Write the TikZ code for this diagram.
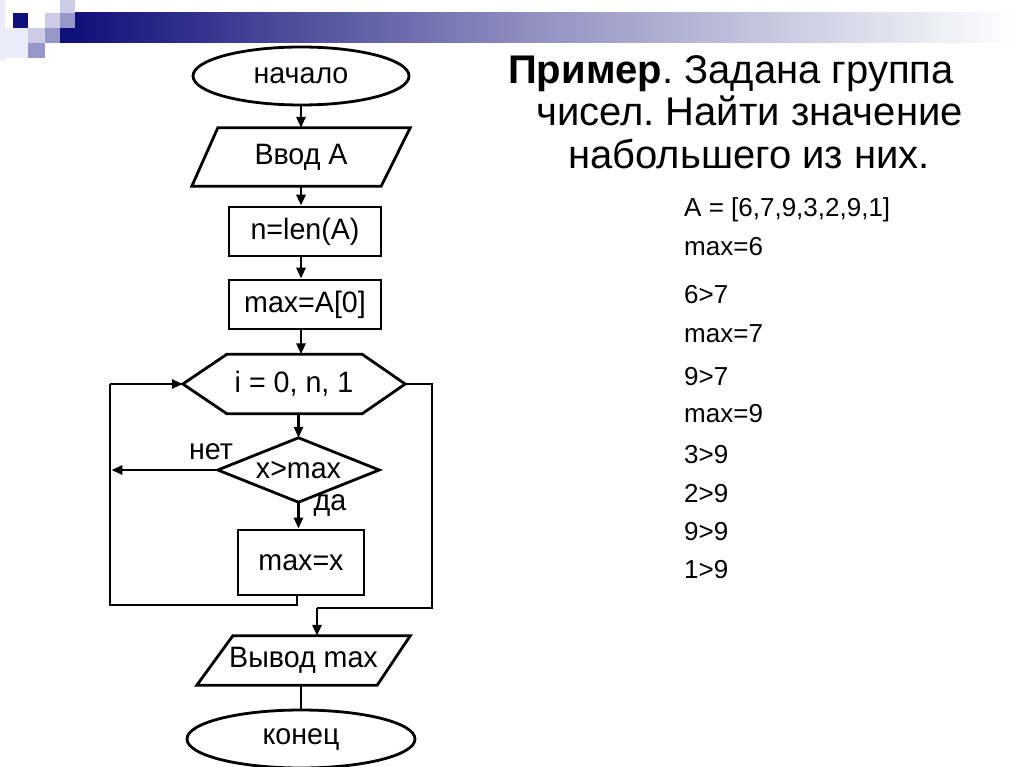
\documentclass[tikz,border=0pt]{standalone}
\usepackage{fontspec}
\setmainfont{Liberation Sans}
\newfontfamily\fcfont[FakeStretch=0.97]{Liberation Sans}
\usetikzlibrary{shapes.geometric,arrows.meta,calc}
\definecolor{dnavy}{RGB}{16,16,122}
\definecolor{lavA}{RGB}{204,204,230}
\definecolor{lavB}{RGB}{150,150,200}
\definecolor{lavC}{RGB}{236,236,248}
\frenchspacing
\begin{document}
\begin{tikzpicture}[x=1pt,y=-1pt,
  ln/.style={line width=2.8pt},
  arr/.style={ln, -{Triangle[length=11pt,width=9pt]}},
  fc/.style={font=\fcfont\fontsize{29.5}{34}\selectfont, inner sep=0pt},
  plain/.style={fc, rectangle},
  boxn/.style={fc, rectangle, draw, line width=2.8pt},
  ovaln/.style={fc, ellipse, draw, line width=2.8pt},
  lbl/.style={font=\fcfont\fontsize{29.5}{34}\selectfont, inner sep=0pt},
  lst/.style={font=\fontsize{26}{30}\selectfont, inner sep=0pt, anchor=base west},
  head/.style={font=\fontsize{40}{46}\selectfont, inner sep=0pt, anchor=base west}
]
\useasboundingbox (0,0) rectangle (1024,767);
\fill[white] (0,0) rectangle (1024,767);

% top decoration
\fill[lavC] (0,0) rectangle (5,60);
\fill[lavC] (5,28) rectangle (28,58);
\fill[lavA] (60,0) rectangle (75,13);
\fill[dnavy] (13,13) rectangle (28,28);
\fill[lavA] (45,13) rectangle (60,28);
\fill[lavB] (60,13) rectangle (75,28);
\fill[lavA] (28,28) rectangle (45,43);
\fill[lavB] (45,28) rectangle (60,43);
\fill[dnavy] (60,28) rectangle (75,43);
\fill[lavB] (28,43) rectangle (45,58);
\shade[left color=dnavy, right color=white, middle color=dnavy!45] (75,13) rectangle (1015,43);

% flowchart nodes
\node[ovaln, minimum width=216pt, minimum height=58pt] (start) at (301,76) {начало};
\node[plain, minimum width=218pt, minimum height=58pt] (in) at (301,157) {Ввод А};
\draw[ln] ([xshift=26pt]in.north west) -- (in.north east) -- ([xshift=-29pt]in.south east) -- (in.south west) -- cycle;
\node[boxn, minimum width=152pt, minimum height=49pt] (n) at (305,231.5) {n=len(A)};
\node[boxn, minimum width=152pt, minimum height=49pt] (m0) at (305,304.5) {max=A[0]};
\node[plain, minimum width=222pt, minimum height=59pt] (hex) at (294,384) {i = 0, n, 1};
\draw[ln] (hex.west) -- ([xshift=44pt]hex.north west) -- ([xshift=-43pt]hex.north east) -- (hex.east) -- ([xshift=-43pt]hex.south east) -- ([xshift=44pt]hex.south west) -- cycle;
\node[plain, minimum width=161pt, minimum height=64pt] (dia) at (298.5,470) {x>max};
\draw[ln] (dia.west) -- (dia.north) -- (dia.east) -- (dia.south) -- cycle;
\node[boxn, minimum width=126pt, minimum height=65pt] (mx) at (301,562.5) {max=x};
\node[plain, minimum width=213pt, minimum height=49pt] (out) at (303.5,660.5) {Вывод max};
\draw[ln] ([xshift=36pt]out.north west) -- (out.north east) -- ([xshift=-33pt]out.south east) -- (out.south west) -- cycle;
\node[ovaln, minimum width=228pt, minimum height=58pt] (fin) at (301,739) {конец};

\node[lbl] (net) at (211,452) {нет};
\node[lbl] (da) at (330,505) {да};

% helper coordinates
\coordinate (lb) at (110,605);
\coordinate (lt) at (110,384);
\coordinate (rt) at (432,384);
\coordinate (rb) at (432,608);
\coordinate (ob) at (317,608);
\coordinate (mxb) at (297,605);

% connectors
\draw[arr] (start.south) -- (start.south |- in.north);
\draw[arr] (in.south) -- (in.south |- n.north);
\draw[arr] (in.south |- n.south) -- (in.south |- m0.north);
\draw[arr] (in.south |- m0.south) -- (in.south |- hex.north);
\draw[arr] (dia.north |- hex.south) -- (dia.north);
\draw[arr] (dia.south) -- (dia.south |- mx.north);
\draw[ln] (mxb |- mx.south) -- (mxb) -- (lb) -- (lt);
\draw[arr] (lt) -- (hex.west);
\draw[arr] (dia.west) -- ($(dia.west -| lb)+(1.4,0)$);
\draw[ln] (hex.east) -- (rt) -- (rb) -- (ob);
\draw[arr] (ob) -- (ob |- out.north);
\draw[ln] (out.south -| fin.north) -- (fin.north);

% heading
\node[head] (h1) at (508,84) {\textbf{Пример}. Задана группа};
\node[head] (h2) at (536,126) {чисел. Найти значение};
\node[head] (h3) at (568,169) {набольшего из них.};

% list
\node[lst] (l1) at (684,217) {A = [6,7,9,3,2,9,1]};
\node[lst] (l2) at (684,255) {max=6};
\node[lst] (l3) at (684,303) {6>7};
\node[lst] (l4) at (684,342) {max=7};
\node[lst] (l5) at (684,385) {9>7};
\node[lst] (l6) at (684,422) {max=9};
\node[lst] (l7) at (684,463) {3>9};
\node[lst] (l8) at (684,502) {2>9};
\node[lst] (l9) at (684,540) {9>9};
\node[lst] (l10) at (684,578) {1>9};
\end{tikzpicture}
\end{document}
